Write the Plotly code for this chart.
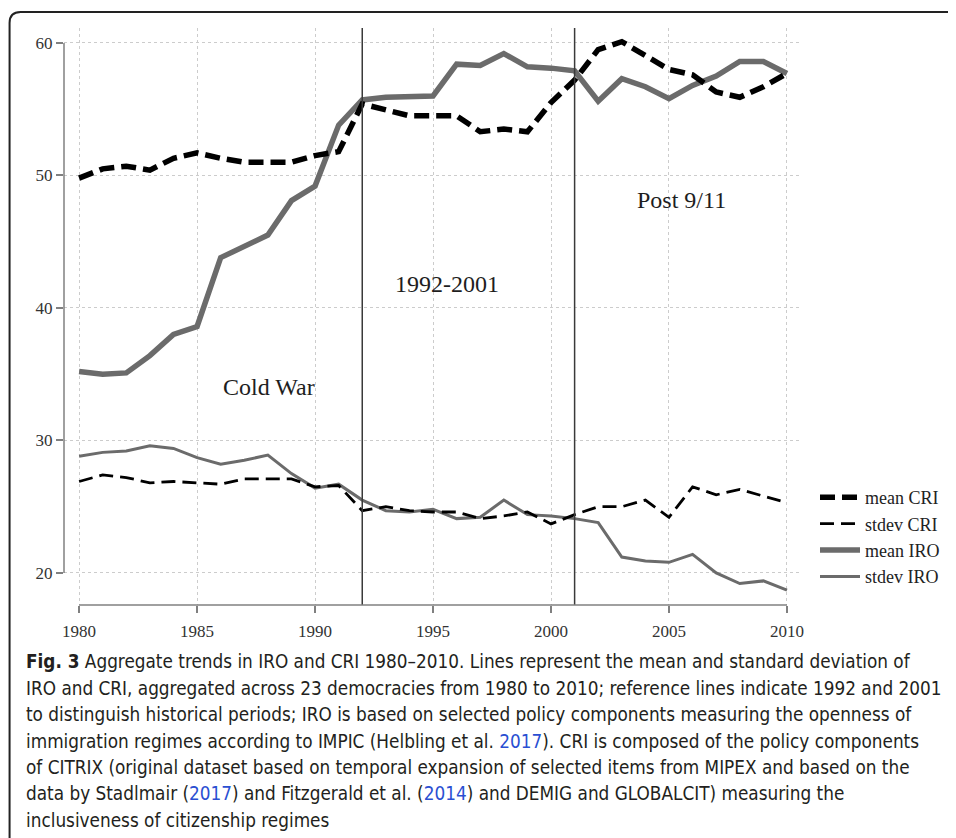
# Fig. 3 - aggregate trends in IRO and CRI, 1980-2010
import plotly.graph_objects as go

years = list(range(1980, 2011))

mean_cri = [49.8, 50.5, 50.7, 50.4, 51.3, 51.7, 51.3, 51.0, 51.0, 51.0,
            51.5, 51.8, 55.4, 54.9, 54.5, 54.5, 54.5, 53.3, 53.5, 53.3,
            55.5, 57.2, 59.5, 60.1, 59.1, 58.0, 57.6, 56.3, 55.9, 56.7,
            57.7]
stdev_cri = [26.9, 27.4, 27.2, 26.8, 26.9, 26.8, 26.7, 27.1, 27.1, 27.1,
             26.5, 26.6, 24.7, 25.0, 24.7, 24.6, 24.6, 24.1, 24.3, 24.6,
             23.7, 24.4, 25.0, 25.0, 25.5, 24.2, 26.5, 25.9, 26.3, 25.8,
             25.3]
mean_iro = [35.2, 35.0, 35.1, 36.4, 38.0, 38.6, 43.8, 44.6, 45.5, 48.1,
            49.2, 53.8, 55.7, 55.9, 56.0, 56.0, 58.4, 58.3, 59.2, 58.2,
            58.1, 57.9, 55.6, 57.3, 56.7, 55.8, 56.8, 57.5, 58.6, 58.6,
            57.7]
stdev_iro = [28.8, 29.1, 29.2, 29.6, 29.4, 28.7, 28.2, 28.5, 28.9, 27.5,
             26.4, 26.7, 25.5, 24.7, 24.6, 24.8, 24.1, 24.2, 25.5, 24.4,
             24.3, 24.1, 23.8, 21.2, 20.9, 20.8, 21.4, 20.0, 19.2, 19.4,
             18.7]

period_breaks = [1992, 2001]
period_labels = ["Cold War", "1992-2001", "Post 9/11"]
period_label_x = [1988.05, 1995.6, 2005.55]
period_label_y = [34.0, 41.8, 48.15]

x_ticks = [1980, 1985, 1990, 1995, 2000, 2005, 2010]
y_ticks = [20, 30, 40, 50, 60]

caption_lines = [
    "<b>Fig. 3</b> Aggregate trends in IRO and CRI 1980–2010. Lines represent the mean and standard deviation of",
    "IRO and CRI, aggregated across 23 democracies from 1980 to 2010; reference lines indicate 1992 and 2001",
    "to distinguish historical periods; IRO is based on selected policy components measuring the openness of",
    "immigration regimes according to IMPIC (Helbling et al. <span style='color:#2a4fd2'>2017</span>). CRI is composed of the policy components",
    "of CITRIX (original dataset based on temporal expansion of selected items from MIPEX and based on the",
    "data by Stadlmair (<span style='color:#2a4fd2'>2017</span>) and Fitzgerald et al. (<span style='color:#2a4fd2'>2014</span>) and DEMIG and GLOBALCIT) measuring the",
    "inclusiveness of citizenship regimes",
]

SERIF = "Liberation Serif, Times New Roman, serif"
CAPTION_FONT = "DejaVu Sans Condensed, Liberation Sans, sans-serif"
GRAY = "#6b6b6b"

# the page body adds an 8px offset, so the figure is 8px smaller than the window
W, H = 948, 830
L, R, T, B = 56, 156, 20, 233
plot_w, plot_h = W - L - R, H - T - B


# helpers: window pixel -> paper coordinate
def px_x(p):
    return (p - 8 - L) / plot_w


def px_y(p):
    return (H - B - (p - 8)) / plot_h


fig = go.Figure()

fig.add_trace(go.Scatter(x=years, y=mean_iro, mode="lines", name="mean IRO",
                         line=dict(color=GRAY, width=5.5), legendrank=3))
fig.add_trace(go.Scatter(x=years, y=stdev_iro, mode="lines", name="stdev IRO",
                         line=dict(color=GRAY, width=3), legendrank=4))
fig.add_trace(go.Scatter(x=years, y=stdev_cri, mode="lines", name="stdev CRI",
                         line=dict(color="black", width=2.8, dash="14px,7px"),
                         legendrank=2))
fig.add_trace(go.Scatter(x=years, y=mean_cri, mode="lines", name="mean CRI",
                         line=dict(color="black", width=5.5, dash="15px,7px"),
                         legendrank=1))

# reference lines for historical periods
for yr in period_breaks:
    fig.add_shape(type="line", xref="x", yref="paper", x0=yr, x1=yr, y0=0, y1=1,
                  line=dict(color="#3a3a3a", width=1.5))

# Stata-like axis spines between first and last tick
fig.add_shape(type="line", xref="paper", yref="y", x0=0, x1=0,
              y0=y_ticks[0], y1=y_ticks[-1], line=dict(color="#808080", width=1.5))
fig.add_shape(type="line", xref="x", yref="paper", x0=x_ticks[0], x1=x_ticks[-1],
              y0=0, y1=0, line=dict(color="#808080", width=1.5))

for txt, xx, yy in zip(period_labels, period_label_x, period_label_y):
    fig.add_annotation(x=xx, y=yy, text=txt, showarrow=False,
                       font=dict(family=SERIF, size=24, color="#1e1e1e"))

# caption, one annotation per line
cap_y = [661, 688, 714, 741, 767, 794, 820]
for line, yy in zip(caption_lines, cap_y):
    fig.add_annotation(xref="paper", yref="paper", x=px_x(24), y=px_y(yy),
                       xanchor="left", yanchor="middle", text=line, showarrow=False,
                       font=dict(family=CAPTION_FONT, size=18.8, color="#231f20"))

# rounded frame around figure and caption
x0, x1 = px_x(9.5), px_x(980)
y0, y1 = px_y(12), px_y(850)
rx, ry = 11 / plot_w, 11 / plot_h
frame = (f"M {x0},{y1} L {x0},{y0 - ry} Q {x0},{y0} {x0 + rx},{y0} "
         f"L {x1},{y0}")
fig.add_shape(type="path", xref="paper", yref="paper", path=frame,
              line=dict(color="#222222", width=2))

fig.update_layout(
    width=W, height=H,
    margin=dict(l=L, r=R, t=T, b=B),
    paper_bgcolor="white",
    plot_bgcolor="white",
    showlegend=True,
    legend=dict(x=px_x(815), y=px_y(479), xanchor="left", yanchor="top",
                font=dict(family=SERIF, size=18, color="#222222"),
                bgcolor="rgba(0,0,0,0)", itemwidth=40),
    xaxis=dict(range=[1979.36, 2010.51], tickvals=x_ticks, showline=False,
               zeroline=False, showgrid=True, gridcolor="#cccccc", griddash="dot",
               gridwidth=1, ticks="outside", ticklen=7, tickwidth=1.5,
               tickcolor="#808080", ticklabelstandoff=4,
               tickfont=dict(family=SERIF, size=17, color="#333333")),
    yaxis=dict(range=[17.58, 61.13], tickvals=y_ticks, showline=False,
               zeroline=False, showgrid=True, gridcolor="#cccccc", griddash="dot",
               gridwidth=1, ticks="outside", ticklen=7, tickwidth=1.5,
               tickcolor="#808080",
               tickfont=dict(family=SERIF, size=17, color="#333333")),
)

fig.write_html("out.html")
